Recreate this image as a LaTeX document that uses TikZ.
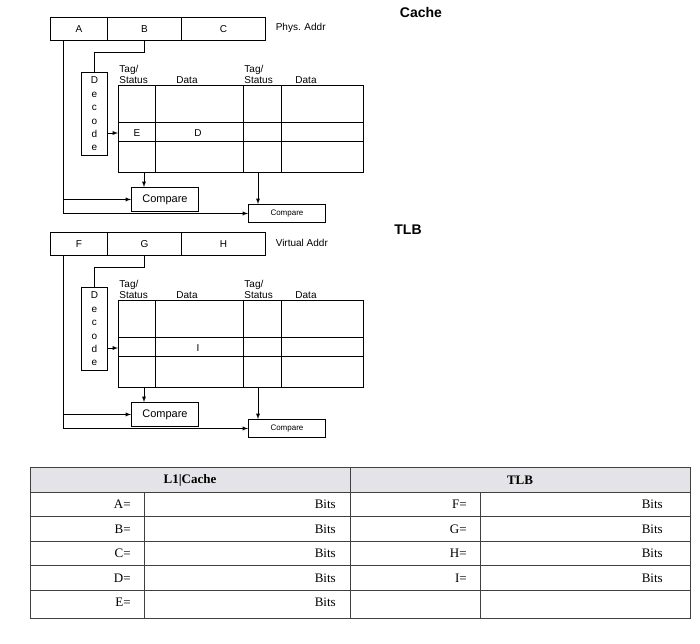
\documentclass[tikz,border=0pt]{standalone}
\usepackage{fontspec}
\setmainfont{Liberation Serif}
\newfontfamily\diagfont{Liberation Sans}
\tikzset{
  field/.style={draw, minimum height=23pt, inner sep=0pt, anchor=north west},
  cmpbox/.style={draw, inner sep=0pt, anchor=north west},
  cell/.style={inner sep=0pt, anchor=east}
}
\begin{document}
\begin{tikzpicture}[x=1pt,y=-1pt,font=\diagfont\fontsize{10}{11}\selectfont,>=latex,line width=0.9pt]
\useasboundingbox (0,0) rectangle (700,643);
% section titles
\node[font=\diagfont\bfseries\fontsize{14}{16}\selectfont] (tcache) at (421,12) {Cache};
\node[font=\diagfont\bfseries\fontsize{14}{16}\selectfont] (ttlb) at (408,230) {TLB};
% the two lookup structures
\foreach \s/\p/\q/\r/\addr/\u/\v/\n in {0/A/B/C/Phys. Addr/E/D/c, 215/F/G/H/Virtual Addr//I/t}{
 \begin{scope}[shift={(0,\s)}]
  \node[field, minimum width=57pt] (a\n) at (50,17) {\p};
  \node[field, minimum width=74pt] (b\n) at (107,17) {\q};
  \node[field, minimum width=84pt] (c\n) at (181,17) {\r};
  \node[anchor=west] (addr\n) at (272,28) {\addr};
  \node[draw, minimum width=26pt, minimum height=83pt, anchor=north west, inner sep=0pt,
        align=center, font=\diagfont\fontsize{10}{13.4}\selectfont] (dec\n) at (81,72)
        {D\\e\\c\\o\\d\\e};
  % headers
  \node[align=left, anchor=south west, inner sep=0pt, font=\diagfont\fontsize{10}{11}\selectfont] (h1\n) at (119,84) {Tag/\\Status};
  \node[anchor=south west, inner sep=0pt] (h2\n) at (176,84) {Data};
  \node[align=left, anchor=south west, inner sep=0pt, font=\diagfont\fontsize{10}{11}\selectfont] (h3\n) at (244,84) {Tag/\\Status};
  \node[anchor=south west, inner sep=0pt] (h4\n) at (295,84) {Data};
  % array
  \draw (118,85) rectangle (363,172);
  \draw (155,85) -- (155,172) (243,85) -- (243,172) (281,85) -- (281,172);
  \draw (118,122) -- (363,122) (118,141) -- (363,141);
  \node (e\n) at (137,133) {\u};
  \node (d\n) at (198,133) {\v};
  % comparators
  \node[cmpbox, minimum width=67pt, minimum height=24pt, font=\diagfont\fontsize{11}{12}\selectfont] (cmpa\n) at (131,187) {Compare};
  \node[cmpbox, minimum width=77pt, minimum height=18pt, font=\diagfont\fontsize{8}{9}\selectfont] (cmpb\n) at (248,204) {Compare};
  \coordinate (row\n) at (118,133);
  \coordinate (tga\n) at (144,172);
  \coordinate (tgb\n) at (258,172);
  \coordinate (al\n) at (63,40);
  % wiring
  \draw (b\n.south) -- ++(0,12) -| (dec\n.north);
  \draw[->] (dec\n.east |- row\n) -- (row\n);
  \draw[->] (tga\n) -- (tga\n |- cmpa\n.north);
  \draw[->] (tgb\n) -- (tgb\n |- cmpb\n.north);
  \draw[->] (al\n) |- (cmpa\n.west);
  \draw[->] (al\n) |- (cmpb\n.west);
 \end{scope}
}
% answer table
\begin{scope}[font=\rmfamily\fontsize{13}{15}\selectfont,line width=0.6pt]
  \fill[blue!8!gray!20] (30,467) rectangle (690,492);
  \draw[gray!50!black] (30,467) rectangle (690,618);
  \draw[gray!50!black] (350,467) -- (350,618);
  \foreach \y in {492,516.5,541,565.5,590}
    \draw[gray!50!black] (30,\y) -- (690,\y);
  \draw[gray!50!black] (144,492) -- (144,618) (480,492) -- (480,618);
  \node[font=\rmfamily\bfseries\fontsize{13}{15}\selectfont] (hl1) at (190,480) {L1|Cache};
  \node[font=\rmfamily\bfseries\fontsize{13}{15}\selectfont] (htlb) at (520,480) {TLB};
  \foreach \l/\y [count=\i] in {A/504,B/529,C/553,D/578,E/602}{
    \node[cell] (l\i) at (131,\y) {\l=};
    \node[cell] (bl\i) at (336,\y) {Bits};
  }
  \foreach \l/\y [count=\i] in {F/504,G/529,H/553,I/578}{
    \node[cell] (r\i) at (467,\y) {\l=};
    \node[cell] (br\i) at (663,\y) {Bits};
  }
\end{scope}
\end{tikzpicture}
\end{document}
